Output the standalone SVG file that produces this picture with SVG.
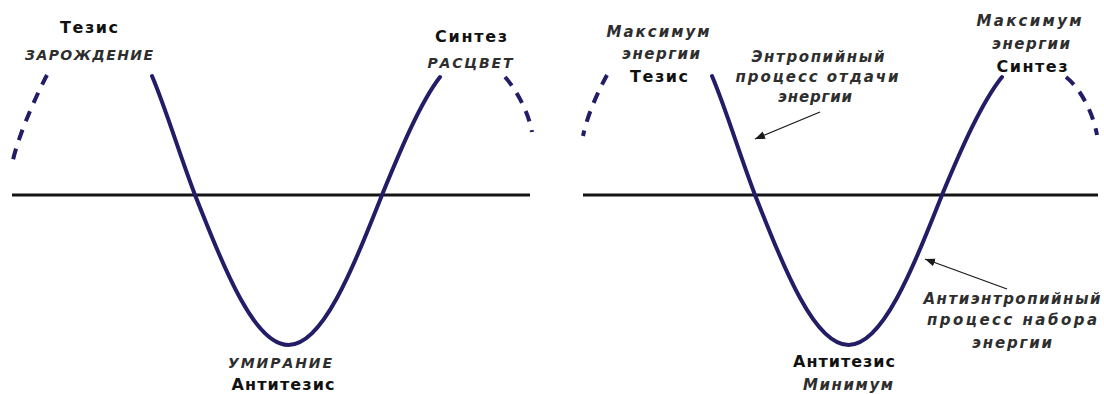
<svg xmlns="http://www.w3.org/2000/svg" width="1104" height="394" viewBox="0 0 1104 394">
  <style>
    .axis { stroke: #141414; stroke-width: 3; fill: none; }
    .wave { stroke: #221d66; stroke-width: 4; fill: none; stroke-linecap: round; }
    .dash { stroke: #221d66; stroke-width: 4; fill: none; stroke-dasharray: 11 9; }
    .bold { font-family: "DejaVu Sans", "Liberation Sans", sans-serif; font-weight: bold; font-size: 16px; fill: #111; text-anchor: middle; }
    .ital { font-family: "DejaVu Sans", "Liberation Sans", sans-serif; font-weight: bold; font-style: italic; font-size: 14px; fill: #2e2e2e; text-anchor: middle; }
    .ital2 { font-family: "DejaVu Sans", "Liberation Sans", sans-serif; font-weight: bold; font-style: italic; font-size: 15px; fill: #2e2e2e; text-anchor: middle; }
    .arrow { stroke: #1a1a1a; stroke-width: 1.3; fill: none; }
  </style>
  <defs>
    <marker id="ah" markerUnits="userSpaceOnUse" markerWidth="12" markerHeight="10" refX="10" refY="4" orient="auto">
      <path d="M0,0 L10,4 L0,8 Z" fill="#1a1a1a"/>
    </marker>
  </defs>
  <rect width="1104" height="394" fill="#ffffff"/>

  <g id="left-panel">
    <line class="axis" x1="12" y1="195" x2="530" y2="195"/>
    <path class="dash" d="M47,75 C40,88 20,130 13,160"/>
    <path class="wave" d="M152,76 C166,109 180,156 195,195 C225.5,271.8 254.6,345 288.5,345 C322.4,345 351.5,271.8 382,195 C401.3,148 420.7,101.9 440,77"/>
    <path class="dash" d="M505,77 C515,88 528,110 532,132"/>
  </g>

  <g id="right-panel">
    <line class="axis" x1="583" y1="195" x2="1098" y2="195"/>
    <path class="dash" d="M607,75 C600,88 588,112 583,136"/>
    <path class="wave" d="M712,76 C726,109 740,156 755,195 C785.5,271.8 814.6,345 848.5,345 C882.4,345 911.5,271.8 942,195 C961.5,148 982,101.9 1002,77"/>
    <path class="dash" d="M1066,77 C1080,88 1093,112 1097,135"/>
  </g>

  <g id="node-tezis-left">
    <text class="bold" x="89" y="33" textLength="58" lengthAdjust="spacing">Тезис</text>
    <text class="ital" x="89" y="60" textLength="128" lengthAdjust="spacing">ЗАРОЖДЕНИЕ</text>
  </g>
  <g id="node-sintez-left">
    <text class="bold" x="471" y="42" textLength="72" lengthAdjust="spacing">Синтез</text>
    <text class="ital" x="470" y="68" textLength="85" lengthAdjust="spacing">РАСЦВЕТ</text>
  </g>
  <g id="node-antitezis-left">
    <text class="ital" x="280" y="368" textLength="104" lengthAdjust="spacing">УМИРАНИЕ</text>
    <text class="bold" x="283" y="390" textLength="103" lengthAdjust="spacing">Антитезис</text>
  </g>

  <g id="node-tezis-right">
    <text class="ital2" x="658" y="37" textLength="103" lengthAdjust="spacing">Максимум</text>
    <text class="ital2" x="661" y="59" textLength="78" lengthAdjust="spacing">энергии</text>
    <text class="bold" x="659" y="82" textLength="58" lengthAdjust="spacing">Тезис</text>
  </g>
  <g id="node-entropy">
    <text class="ital2" x="818" y="62" textLength="133" lengthAdjust="spacing">Энтропийный</text>
    <text class="ital2" x="817" y="82" textLength="163" lengthAdjust="spacing">процесс отдачи</text>
    <text class="ital2" x="815" y="102" textLength="74" lengthAdjust="spacing">энергии</text>
  </g>
  <g id="node-sintez-right">
    <text class="ital2" x="1029" y="26" textLength="105" lengthAdjust="spacing">Максимум</text>
    <text class="ital2" x="1031" y="49" textLength="78" lengthAdjust="spacing">энергии</text>
    <text class="bold" x="1032" y="72" textLength="71" lengthAdjust="spacing">Синтез</text>
  </g>
  <g id="node-antientropy">
    <text class="ital2" x="1012" y="304" textLength="177" lengthAdjust="spacing">Антиэнтропийный</text>
    <text class="ital2" x="1012" y="325" textLength="170" lengthAdjust="spacing">процесс набора</text>
    <text class="ital2" x="1012" y="348" textLength="80" lengthAdjust="spacing">энергии</text>
  </g>
  <g id="node-antitezis-right">
    <text class="bold" x="844" y="367" textLength="102" lengthAdjust="spacing">Антитезис</text>
    <text class="ital2" x="848" y="390" textLength="90" lengthAdjust="spacing">Минимум</text>
  </g>

  <g id="connectors">
    <line class="arrow" x1="820" y1="112" x2="755" y2="139" marker-end="url(#ah)"/>
    <line class="arrow" x1="1007" y1="289" x2="925" y2="259" marker-end="url(#ah)"/>
  </g>
</svg>
